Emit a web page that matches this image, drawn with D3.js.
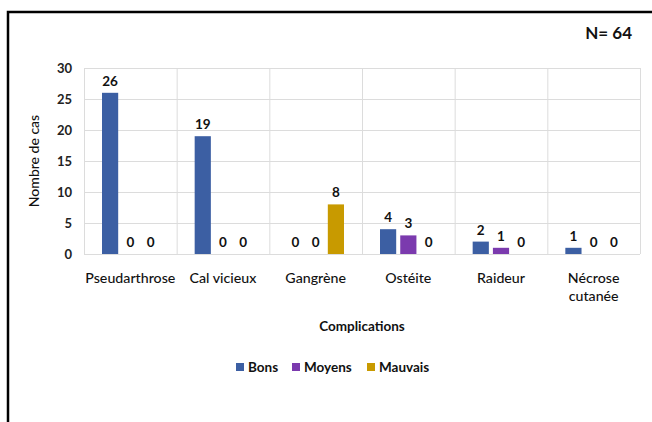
<!DOCTYPE html>
<html>
<head>
<meta charset="utf-8">
<script src="https://d3js.org/d3.v7.min.js"></script>
<style>
  body { margin: 0; background: #fff; }
  svg { display: block; font-family: Lato, "Open Sans", sans-serif; }
</style>
</head>
<body>
<svg width="652" height="422"></svg>
<script>
// données
const categories = ["Pseudarthrose", "Cal vicieux", "Gangrène", "Ostéite", "Raideur", "Nécrose cutanée"];
const series = ["Bons", "Moyens", "Mauvais"];
const bons    = [26, 19, 0, 4, 2, 1];
const moyens  = [0, 0, 0, 3, 1, 0];
const mauvais = [0, 0, 8, 0, 0, 0];
const yTicks = [0, 5, 10, 15, 20, 25, 30];
const colors = ["#3c5fa3", "#7b3aae", "#c89a00"];

const values = [bons, moyens, mauvais];
const rows = categories.map((c, i) => ({ cat: c, vals: series.map((s, j) => ({ s, v: values[j][i] })) }));

const svg = d3.select("svg");

// cadre
svg.append("path")
  .attr("d", "M8,422 L8,12 L652,12")
  .attr("fill", "none")
  .attr("stroke", "#000")
  .attr("stroke-width", 2.5);

const mLeft = 84, mRight = 640, mTop = 68, mBottom = 254;

const x0 = d3.scaleBand().domain(categories).range([mLeft, mRight]).padding(0);
const x1 = d3.scaleBand().domain(series).range([18, x0.bandwidth() - 18]).paddingInner(0.2);
const y = d3.scaleLinear().domain([0, 30]).range([mBottom, mTop]);
const color = d3.scaleOrdinal().domain(series).range(colors);

// grille
svg.append("g").selectAll("line")
  .data(yTicks)
  .join("line")
  .attr("x1", mLeft).attr("x2", mRight)
  .attr("y1", d => y(d) + 0.5).attr("y2", d => y(d) + 0.5)
  .attr("stroke", "#dcdcdc");

svg.append("g").selectAll("line")
  .data(categories.concat(["end"]))
  .join("line")
  .attr("x1", (d, i) => mLeft + i * x0.step() + 0.5)
  .attr("x2", (d, i) => mLeft + i * x0.step() + 0.5)
  .attr("y1", mTop).attr("y2", mBottom)
  .attr("stroke", "#dcdcdc");

// axe Y
const yAxis = svg.append("g")
  .attr("transform", `translate(${mLeft},0)`)
  .call(d3.axisLeft(y).tickValues(yTicks).tickSize(0).tickPadding(12));
yAxis.select(".domain").remove();
yAxis.selectAll("text")
  .attr("font-size", 13).attr("font-weight", "bold").attr("fill", "#222")
  .attr("font-family", "Lato, sans-serif");

// barres
const groups = svg.append("g").selectAll("g")
  .data(rows)
  .join("g")
  .attr("transform", d => `translate(${x0(d.cat)},0)`);

groups.selectAll("rect")
  .data(d => d.vals)
  .join("rect")
  .attr("x", d => x1(d.s))
  .attr("width", x1.bandwidth())
  .attr("y", d => y(d.v))
  .attr("height", d => y(0) - y(d.v))
  .attr("fill", d => color(d.s));

groups.selectAll("text")
  .data(d => d.vals)
  .join("text")
  .attr("x", d => x1(d.s) + x1.bandwidth() / 2)
  .attr("y", d => y(d.v) - 7)
  .attr("text-anchor", "middle")
  .attr("font-size", 13.5)
  .attr("font-weight", "bold")
  .attr("fill", "#111")
  .text(d => d.v);

// étiquettes X
const xLabels = svg.append("g").selectAll("text")
  .data(categories)
  .join("text")
  .attr("x", d => x0(d) + x0.bandwidth() / 2)
  .attr("y", 283)
  .attr("text-anchor", "middle")
  .attr("font-size", 14.2)
  .attr("font-weight", 500)
  .attr("fill", "#111");
xLabels.each(function(d) {
  const t = d3.select(this);
  const words = d === "Nécrose cutanée" ? ["Nécrose", "cutanée"] : [d];
  words.forEach((w, i) => t.append("tspan").attr("x", t.attr("x")).attr("dy", i ? 18 : 0).text(w));
});

// titres des axes
svg.append("text")
  .attr("x", (mLeft + mRight) / 2).attr("y", 331)
  .attr("text-anchor", "middle")
  .attr("font-size", 13.5).attr("font-weight", "bold").attr("fill", "#111")
  .text("Complications");

svg.append("text")
  .attr("transform", `translate(39,${(mTop + mBottom) / 2}) rotate(-90)`)
  .attr("text-anchor", "middle")
  .attr("font-size", 14).attr("font-weight", 500).attr("fill", "#111")
  .text("Nombre de cas");

// N
svg.append("text")
  .attr("x", 632).attr("y", 39)
  .attr("text-anchor", "end")
  .attr("font-size", 17).attr("font-weight", "bold").attr("fill", "#111")
  .text("N= 64");

// légende
const legendX = [236, 292, 367];
const legend = svg.append("g").selectAll("g")
  .data(series)
  .join("g")
  .attr("transform", (d, i) => `translate(${legendX[i]},362)`);
legend.append("rect")
  .attr("width", 8).attr("height", 8).attr("y", 1)
  .attr("fill", d => color(d));
legend.append("text")
  .attr("x", 12).attr("y", 10)
  .attr("font-size", 13.5).attr("font-weight", "bold").attr("fill", "#111")
  .text(d => d);
</script>
</body>
</html>
